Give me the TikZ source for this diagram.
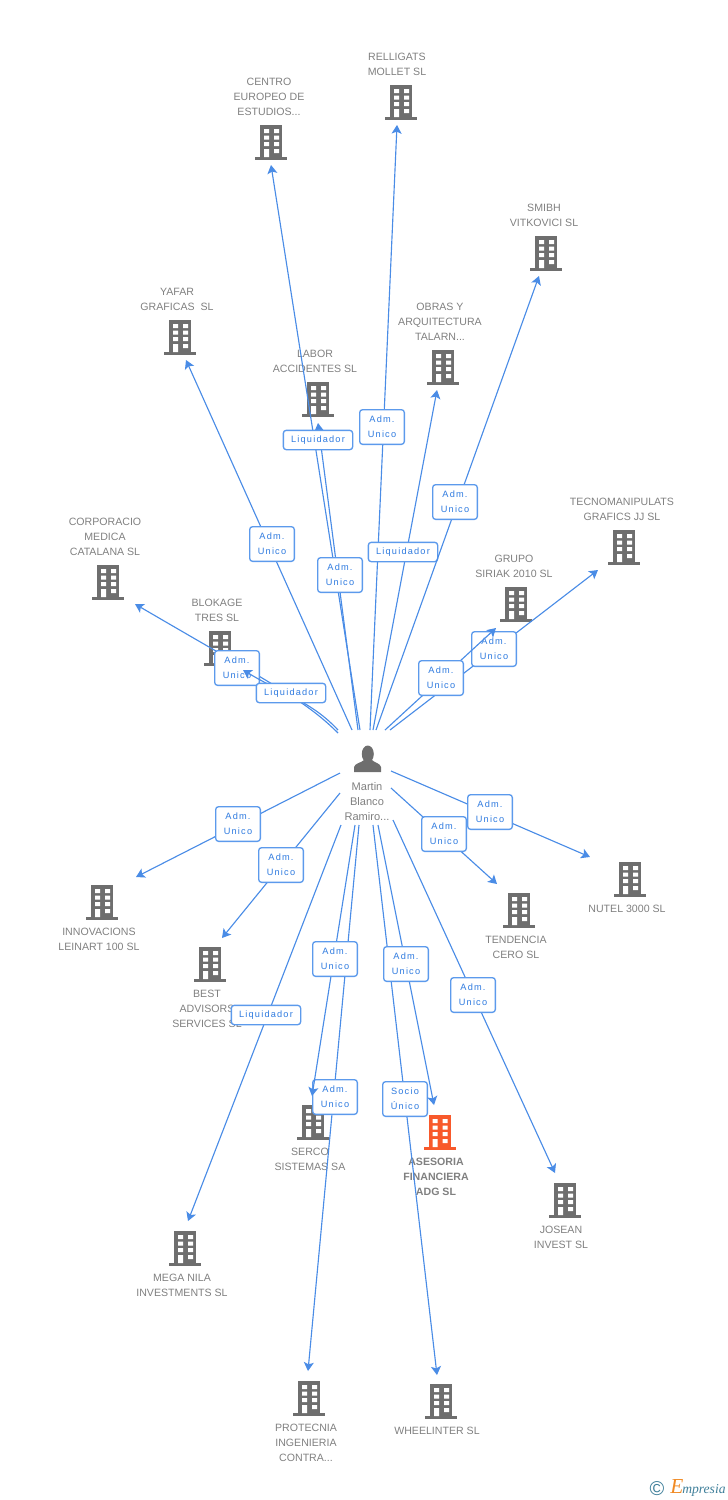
\documentclass[tikz,border=0pt]{standalone}
\usepackage{fontspec}
\setmainfont{Liberation Sans}
\newfontfamily\boxfont[LetterSpace=13]{Liberation Sans}
\newfontfamily\logofont{Liberation Serif}
\usetikzlibrary{arrows.meta}
\definecolor{edgeblue}{HTML}{4A8CE6}
\definecolor{boxblue}{HTML}{5C9AEC}
\definecolor{labblue}{HTML}{2F7BE0}
\definecolor{icongrey}{HTML}{6E6E6E}
\definecolor{textgrey}{HTML}{808080}
\definecolor{orangebld}{HTML}{F8592B}
\definecolor{logoteal}{HTML}{3F7F9A}
\definecolor{logoorange}{HTML}{F08A24}
\tikzset{
  x=0.75pt,y=-0.75pt,
  conn/.style={draw=edgeblue,line width=0.85pt,-{Stealth[length=6.5pt,width=7.5pt,inset=1.5pt]}},
  lab/.style={draw=boxblue,fill=white,line width=1pt,rounded corners=2.2pt,text=labblue,
    font=\boxfont\fontsize{6.9pt}{11.25pt}\selectfont,align=center,inner sep=0pt},
  adm/.style={lab,minimum width=33.5pt,minimum height=26pt},
  liq/.style={lab,minimum width=52pt,minimum height=14.5pt},
  bname/.style={text=textgrey,font=\fontsize{7.95pt}{11.25pt}\selectfont,align=center,inner sep=0pt},
  boldname/.style={bname,font=\fontsize{7.95pt}{11.25pt}\selectfont\bfseries},
  pics/bldg/.style={code={
    \fill[#1] (-11,-17) rectangle (11,15);
    \fill[#1] (-16,15) rectangle (16,17.5);
    \fill[white] (-7,-13) rectangle (-2,-9) (3,-13) rectangle (8,-9);
    \fill[white] (-7,-6.5) rectangle (-2,-2.5) (3,-6.5) rectangle (8,-2.5);
    \fill[white] (-7,0) rectangle (-2,4) (3,0) rectangle (8,4);
    \fill[white] (-7,7) rectangle (-2,15) (3,7) rectangle (8,11);
  }},
}
\begin{document}
\begin{tikzpicture}
\useasboundingbox (0,0) rectangle (728,1500);
% buildings and their names
\pic at (401,102) {bldg=icongrey};
\node[bname] (nRelligats) at (397,64) {RELLIGATS\\MOLLET SL};
\pic at (271,142) {bldg=icongrey};
\node[bname] (nCentro) at (269,96.5) {CENTRO\\EUROPEO DE\\ESTUDIOS...};
\pic at (546,253) {bldg=icongrey};
\node[bname] (nSmibh) at (544,215) {SMIBH\\VITKOVICI SL};
\pic at (180,337) {bldg=icongrey};
\node[bname] (nYafar) at (177,299) {YAFAR\\GRAFICAS\ \ SL};
\pic at (443,367) {bldg=icongrey};
\node[bname] (nObras) at (440,321.5) {OBRAS Y\\ARQUITECTURA\\TALARN...};
\pic at (318,399) {bldg=icongrey};
\node[bname] (nLabor) at (315,361) {LABOR\\ACCIDENTES SL};
\pic at (624,547) {bldg=icongrey};
\node[bname] (nTecno) at (622,509) {TECNOMANIPULATS\\GRAFICS JJ SL};
\pic at (516,604) {bldg=icongrey};
\node[bname] (nGrupo) at (514,566) {GRUPO\\SIRIAK 2010 SL};
\pic at (108,582) {bldg=icongrey};
\node[bname] (nCorp) at (105,536.5) {CORPORACIO\\MEDICA\\CATALANA SL};
\pic at (220,648) {bldg=icongrey};
\node[bname] (nBlok) at (217,610) {BLOKAGE\\TRES SL};
\pic at (102,902) {bldg=icongrey};
\node[bname] (nInno) at (99,939) {INNOVACIONS\\LEINART 100 SL};
\pic at (210,964) {bldg=icongrey};
\node[bname] (nBest) at (207,1008.5) {BEST\\ADVISORS\\SERVICES SL};
\pic at (519,910) {bldg=icongrey};
\node[bname] (nTend) at (516,947) {TENDENCIA\\CERO SL};
\pic at (630,879) {bldg=icongrey};
\node[bname] (nNutel) at (627,908.5) {NUTEL 3000 SL};
\pic at (313,1122) {bldg=icongrey};
\node[bname] (nSerco) at (310,1159) {SERCO\\SISTEMAS SA};
\pic at (439.5,1132) {bldg=orangebld};
\node[boldname] (nAses) at (436,1176.5) {ASESORIA\\FINANCIERA\\ADG SL};
\pic at (565,1200) {bldg=icongrey};
\node[bname] (nJosean) at (561,1237) {JOSEAN\\INVEST SL};
\pic at (185,1248) {bldg=icongrey};
\node[bname] (nMega) at (182,1285) {MEGA NILA\\INVESTMENTS SL};
\pic at (309,1398) {bldg=icongrey};
\node[bname] (nProt) at (306,1442.5) {PROTECNIA\\INGENIERIA\\CONTRA...};
\pic at (441,1401) {bldg=icongrey};
\node[bname] (nWheel) at (437,1430.5) {WHEELINTER SL};
% person
\fill[icongrey] (367.8,754) ellipse (6 and 8.5);
\fill[icongrey] (354,772) -- (354,767) .. controls (355,763) and (361,763) .. (364,760) -- (372,760) .. controls (375,763) and (380,763) .. (381,767) -- (381,772) -- cycle;
\node[bname,font=\fontsize{8.3pt}{11.25pt}\selectfont] (person) at (367,801.5) {Martin\\Blanco\\Ramiro...};
% end points
\foreach \n/\x/\y in {
  sRell/370/730,eRell/397/125,sCent/360/730,eCent/271/165,sLab/358/730,eLab/318/423,
  sYaf/352/730,eYaf/186/360,sObr/373/730,eObr/437/390,sSmi/376/730,eSmi/539/276,
  sGru/385/730,eGru/496/628,sTec/390/730,eTec/598/570,sCor/338/733,eCor/135/604,
  sBlo/338/730,eBlo/243/670,sInn/340/773,eInn/136/877,sBes/340/793,eBes/222/938,
  sMeg/341/825,eMeg/188/1221,sSer/355/825,eSer/312/1096,sPro/359/825,ePro/308/1371,
  sAse/378/825,eAse/434/1105,sWhe/373/825,eWhe/437/1375,sJos/393/820,eJos/555/1173,
  sTen/391/788,eTen/497/884,sNut/391/771,eNut/590/857}
  {\coordinate (\n) at (\x,\y);}
% connectors with their labels, back to front
\draw[conn] (sRell) -- (eRell);
\node[adm] (lRell) at (382,427) {Adm.\\Unico};
\draw[conn] (sLab) -- (eLab);
\draw[conn] (sCent) -- (eCent);
\node[adm] (lCent) at (340,575) {Adm.\\Unico};
\node[liq] (lLab) at (318,440) {Liquidador};
\draw[conn] (sYaf) -- (eYaf);
\node[adm] (lYaf) at (272,544) {Adm.\\Unico};
\draw[conn] (sObr) -- (eObr);
\node[liq] (lObr) at (403,552) {Liquidador};
\draw[conn] (sSmi) -- (eSmi);
\node[adm] (lSmi) at (455,502) {Adm.\\Unico};
\draw[conn] (sTec) -- (eTec);
\node[adm] (lTec) at (494,649) {Adm.\\Unico};
\draw[conn] (sGru) -- (eGru);
\node[adm] (lGru) at (441,678) {Adm.\\Unico};
\draw[conn] (sCor) .. controls (305,700) and (272,684) .. (eCor);
\node[adm] (lCor) at (237,668) {Adm.\\Unico};
\draw[conn] (sBlo) .. controls (312,702) and (285,695) .. (eBlo);
\node[liq] (lBlo) at (291,693) {Liquidador};
\draw[conn] (sInn) -- (eInn);
\node[adm] (lInn) at (238,824) {Adm.\\Unico};
\draw[conn] (sBes) -- (eBes);
\node[adm] (lBes) at (281,865) {Adm.\\Unico};
\draw[conn] (sMeg) -- (eMeg);
\node[liq] (lMeg) at (266,1015) {Liquidador};
\draw[conn] (sPro) -- (ePro);
\node[adm] (lPro) at (335,1097) {Adm.\\Unico};
\draw[conn] (sSer) -- (eSer);
\node[adm] (lSer) at (335,959) {Adm.\\Unico};
\draw[conn] (sWhe) -- (eWhe);
\node[adm] (lWhe) at (405,1099) {Socio\\Único};
\draw[conn] (sAse) -- (eAse);
\node[adm] (lAse) at (406,964) {Adm.\\Unico};
\draw[conn] (sJos) -- (eJos);
\node[adm] (lJos) at (473,995) {Adm.\\Unico};
\draw[conn] (sTen) -- (eTen);
\node[adm] (lTen) at (444,834) {Adm.\\Unico};
\draw[conn] (sNut) -- (eNut);
\node[adm] (lNut) at (490,812) {Adm.\\Unico};
% logo
\node[text=logoteal,font=\fontsize{15pt}{15pt}\selectfont,inner sep=0pt] (copy) at (657,1488.5) {©};
\node[anchor=base west,inner sep=0pt,font=\logofont\itshape\fontsize{16pt}{16pt}\selectfont,text=logoorange] (logoE) at (670,1493) {E};
\node[anchor=base west,inner sep=0pt,font=\logofont\itshape\fontsize{10.2pt}{12pt}\selectfont,text=logoteal] (logoT) at (682,1493) {mpresia};
\end{tikzpicture}
\end{document}
